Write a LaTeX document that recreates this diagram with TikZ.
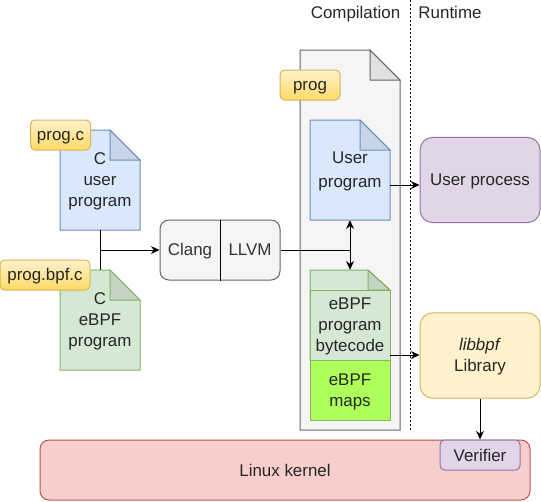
\documentclass[tikz,border=0pt]{standalone}
\usepackage{fontspec}
\setmainfont{Liberation Sans}
\usetikzlibrary{arrows.meta}

\definecolor{bluefill}{HTML}{DAE8FC}
\definecolor{blueline}{HTML}{6C8EBF}
\definecolor{greenfill}{HTML}{D5E8D4}
\definecolor{greenline}{HTML}{82B366}
\definecolor{greyfill}{HTML}{F5F5F5}
\definecolor{greyline}{HTML}{666666}
\definecolor{yellowfill}{HTML}{FFF2CC}
\definecolor{yellowline}{HTML}{D6B656}
\definecolor{goldfill}{HTML}{FFD966}
\definecolor{purplefill}{HTML}{E1D5E7}
\definecolor{purpleline}{HTML}{9673A6}
\definecolor{redfill}{HTML}{F8CECC}
\definecolor{redline}{HTML}{B85450}
\definecolor{mapfill}{HTML}{AEFF5A}
\definecolor{textgrey}{HTML}{333333}

\tikzset{
	label text/.style={font=\fontsize{12.7}{15.75}\selectfont,align=center,inner sep=0pt,text=black!85},
	box/.style={label text,draw,line width=0.75pt},
	tag/.style={box,draw=yellowline,top color=yellowfill,bottom color=goldfill,rounded corners=3.4pt,minimum height=22.5pt},
	bluenote/.style={draw=blueline,fill=bluefill,line width=0.75pt},
	greennote/.style={draw=greenline,fill=greenfill,line width=0.75pt},
	greynote/.style={draw=greyline,fill=greyfill,line width=0.75pt},
	link/.style={line width=0.75pt},
	arrow/.style={link,-{Stealth[length=6.5pt,width=6pt]}}
}

% pushes a text down about a pixel inside its node
\newcommand{\lift}{\rule{0pt}{11.4pt}}
% same depth as a line with a descender
\newcommand{\sink}{\rule[-2.7pt]{0pt}{2.7pt}}

% name, centre x, centre y, width, height, fold x, fold y, style, text
\newcommand{\notefile}[9]{
	\draw[#8] ({#2-#4/2},{#3-#5/2}) -- ({#2+#4/2-#6},{#3-#5/2}) -- ({#2+#4/2},{#3-#5/2+#7}) -- ({#2+#4/2},{#3+#5/2}) -- ({#2-#4/2},{#3+#5/2}) -- cycle;
	\draw[#8,fill=black,fill opacity=0.08] ({#2+#4/2-#6},{#3-#5/2}) -- ({#2+#4/2},{#3-#5/2+#7}) -- ({#2+#4/2-#6},{#3-#5/2+#7}) -- cycle;
	\node[label text,minimum width={#4*0.75pt},minimum height={#5*0.75pt}] (#1) at (#2,#3) {#9};
}

\begin{document}
\begin{tikzpicture}[x=0.75pt,y=0.75pt,yscale=-1,xscale=1]
	\useasboundingbox (0,0) rectangle (541,501);

	% Left column, sources
	\notefile{cuser}{100}{180}{80}{100}{30}{30}{bluenote}{\lift C\\user\\program}
	\notefile{cbpf}{100}{320}{80}{100}{30}{30}{greennote}{\lift C\\eBPF\\program}
	\node[tag,minimum width=45pt] (tagc) at (60.5,135) {\lift prog.c};
	\node[tag,minimum width=67.5pt] (tagbpf) at (45,275) {\lift prog.bpf.c};

	% Compiler
	\node[box,draw=greyline,fill=greyfill,text=textgrey,rounded corners=6.75pt,minimum width=90pt,minimum height=45pt] (compiler) at (220,250) {};
	\node[label text,text=textgrey] (clang) at (190,250) {\lift Clang};
	\node[label text,text=textgrey] (llvm) at (250,250) {\lift\sink LLVM};
	\draw[link] (compiler.north) -- (compiler.south);

	% Output file
	\notefile{progfile}{350}{240}{100}{380}{30}{30}{greynote}{}
	\node[tag,minimum width=45pt] (tagprog) at (310,85) {\lift prog};
	\notefile{userbin}{350}{170}{80}{100}{30}{30}{bluenote}{\lift User\\[2.25pt]program}
	\notefile{bpfnote}{350}{315}{80}{90}{22}{20}{greennote}{}
	\node[box,draw=greenline,fill=greenfill,minimum width=60pt,minimum height=52.5pt] (bytecode) at (350,325) {\lift eBPF\\program\\bytecode};
	\node[box,draw=greenline,fill=mapfill,minimum width=60pt,minimum height=45pt] (maps) at (350,390) {\lift eBPF\\maps};

	% Phases
	\node[label text] (compilation) at (355.5,14) {Compilation};
	\node[label text] (runtime) at (450,14) {\sink Runtime};
	\coordinate (splittop) at (410,0);
	\coordinate (splitbot) at (410,430);
	\draw[link,dash pattern={on 1.5pt off 1.5pt}] (splittop) -- (splitbot);

	% Runtime side
	\node[box,draw=purpleline,fill=purplefill,rounded corners=9.5pt,minimum width=90pt,minimum height=64pt] (process) at (480,180) {\lift User process};
	\node[box,draw=yellowline,fill=yellowfill,rounded corners=9.5pt,minimum width=90pt,minimum height=64pt] (library) at (480,355.5) {\lift\textit{libbpf}\\Library};
	\node[box,draw=redline,fill=redfill,rounded corners=6.75pt,minimum width=367.5pt,minimum height=45pt] (kernel) at (285,470) {Linux kernel};
	\node[box,draw=purpleline,fill=purplefill,rounded corners=3.4pt,minimum width=60pt,minimum height=22.5pt] (verifier) at (480,455) {Verifier};

	% Connectors
	\coordinate (srcjoin) at (100,250);
	\coordinate (outjoin) at (350,250);
	\coordinate (userout) at (390,185);
	\coordinate (bpfout) at (390,355);
	\draw[link] (cuser.south) -- (cbpf.north);
	\draw[arrow] (srcjoin) -- (compiler.west);
	\draw[link] (compiler.east) -- (outjoin);
	\draw[arrow] (outjoin) -- (userbin.south);
	\draw[arrow] (outjoin) -- (bpfnote.north);
	\draw[arrow] (userout) -- (userout -| process.west);
	\draw[arrow] (bpfout) -- (bpfout -| library.west);
	\draw[arrow] (library.south) -- (verifier.north);
\end{tikzpicture}
\end{document}
